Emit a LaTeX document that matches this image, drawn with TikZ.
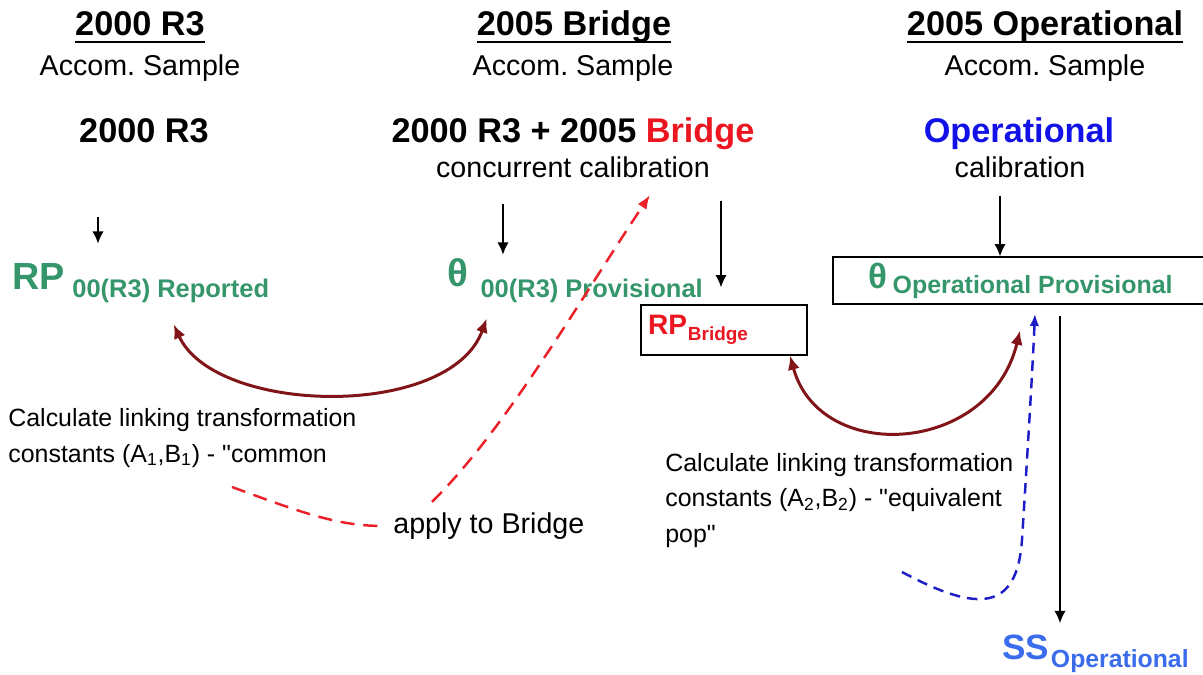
\documentclass[tikz,border=0pt]{standalone}
\usepackage{fontspec}
\setmainfont{Liberation Sans}
\usetikzlibrary{arrows.meta}
\usetikzlibrary{calc}
\definecolor{estgreen}{RGB}{52,150,106}
\definecolor{bridgered}{RGB}{235,22,32}
\definecolor{opblue}{RGB}{18,18,232}
\definecolor{ssblue}{RGB}{58,108,236}
\definecolor{linkred}{RGB}{128,20,22}
\definecolor{applyred}{RGB}{236,32,40}
\definecolor{pullblue}{RGB}{30,30,200}
\frenchspacing

\begin{document}
\begin{tikzpicture}[x=0.02cm,y=-0.02cm,
    every node/.style={inner sep=0pt},
    head/.style={font=\fontsize{19.5}{23}\selectfont\bfseries},
    plain/.style={font=\fontsize{16.3}{20}\selectfont},
    note/.style={font=\fontsize{14.2}{20}\selectfont,align=left},
    est/.style={text=estgreen,font=\fontsize{21.5}{25}\selectfont\bfseries},
    estbox/.style={draw,line width=0.8pt},
    uline/.style={line width=1.4pt},
    flow/.style={line width=0.9pt,-{Latex[length=7pt,width=6.5pt]}},
    link/.style={linkred,line width=1.7pt,{Latex[length=8pt,width=7pt]}-{Latex[length=8pt,width=7pt]}},
    apply/.style={applyred,line width=1.4pt,dash pattern=on 8pt off 5pt},
    pull/.style={pullblue,line width=1.4pt,dash pattern=on 6pt off 4pt}]
    \path[use as bounding box,clip] (0,0) rectangle (1203,675);
    % Headers
    \node[head,anchor=base] (h1) at (140,36) {2000 R3};
    \node[head,anchor=base] (h2) at (574,36) {2005 Bridge};
    \node[head,anchor=base] (h3) at (1045,36) {2005 Operational};
    \foreach \h in {h1,h2,h3}
      \draw[uline] ([yshift=-3.4pt]\h.base west) -- ([yshift=-3.4pt]\h.base east);
    \node[plain,anchor=base] (s1) at (140,76) {Accom. Sample};
    \node[plain,anchor=base] (s2) at (573,76) {Accom. Sample};
    \node[plain,anchor=base] (s3) at (1045,76) {Accom. Sample};
    % Calibrations
    \node[head,anchor=base] (r3) at (144,143) {2000 R3};
    \node[head,anchor=base] (br) at (573,143) {2000 R3 + 2005 \textcolor{bridgered}{Bridge}};
    \node[head,anchor=base,text=opblue] (op) at (1019,143) {Operational};
    \node[plain,anchor=base] (cc) at (573,178) {concurrent calibration};
    \node[plain,anchor=base] (ca) at (1020,178) {calibration};
    % Estimates
    \node[est,anchor=base west] (rp) at (12,290)
      {RP\hspace{4.3pt}\raisebox{-4.5pt}{\fontsize{14.5}{17}\selectfont 00(R3) Reported}};
    \node[est,anchor=base west,font=\fontsize{22}{25}\selectfont\bfseries] (thp) at (447,287)
      {θ\hspace{7pt}\raisebox{-5.7pt}{\fontsize{14.5}{17}\selectfont 00(R3) Provisional}};
    \node[estbox,text=bridgered,font=\fontsize{16}{19}\selectfont\bfseries,
      text width=3.04cm,inner xsep=0.14cm,minimum height=1cm,align=left] (rpb) at (724,330)
      {RP\hspace{0.5pt}\raisebox{-3.4pt}{\fontsize{10.8}{13}\selectfont Bridge}};
    \node[estbox,text=estgreen,font=\fontsize{20}{24}\selectfont\bfseries,
      minimum width=7.5cm,minimum height=0.94cm] (thop) at (1020.5,280.5)
      {θ\hspace{3pt}\raisebox{-2.8pt}{\fontsize{14.2}{17}\selectfont Operational Provisional}};
    \node[anchor=base west,text=ssblue,font=\fontsize{20}{24}\selectfont\bfseries] (ss) at (1002,659)
      {SS\hspace{1pt}\raisebox{-5pt}{\fontsize{14.1}{17}\selectfont Operational}};
    % Notes
    \node[note,anchor=base west] (lk1) at (8,462)
      {Calculate linking transformation\\constants (A\textsubscript{1},B\textsubscript{1}) - \textquotedbl common};
    \node[note,anchor=base west] (lk2) at (665,542)
      {Calculate linking transformation\\constants (A\textsubscript{2},B\textsubscript{2}) - \textquotedbl equivalent\\pop\textquotedbl};
    \node[plain,anchor=base west] (ap) at (393,533) {apply to Bridge};
    % Arrows
    \coordinate (t1) at ([shift={(-46,73)}]r3.south);
    \coordinate (t2) at ([shift={(-70,25)}]cc.south);
    \coordinate (t3) at ([shift={(148,22)}]cc.south);
    \coordinate (t4) at ([shift={(-20,17)}]ca.south);
    \coordinate (t5) at ([shift={(39.5,11)}]thop.south);
    \draw[flow,shorten >=0.4cm] (t1) -- (t1 |- rp.north);
    \draw[flow,shorten >=0.08cm] (t2) -- (t2 |- thp.north);
    \draw[flow,shorten >=0.34cm] (t3) -- (t3 |- rpb.north);
    \draw[flow] (t4) -- (t4 |- thop.north);
    \draw[flow,shorten >=0.22cm] (t5) -- (t5 |- ss.north);
    % Linking
    \draw[link] ([shift={(33,21)}]rp.south)
      .. controls (215,415) and (450,420) .. ([shift={(-88.5,16)}]thp.south);
    \draw[link] ([shift={(66,0)}]rpb.south)
      .. controls (820,465) and (990,455) .. ([shift={(-0.5,26)}]thop.south);
    \coordinate (from1) at (232,487);
    \coordinate (to1) at (650,195);
    \draw[apply,shorten >=0.16cm] (from1) .. controls (300,512) and (340,527) .. (ap.west);
    \draw[apply,-{Latex[length=8pt,width=6pt]}] ([shift={(39,-10)}]ap.north west)
      .. controls (505,430) and (580,300) .. (to1);
    \coordinate (from2) at (902,572);
    \draw[pull,-{Latex[length=7pt,width=5.5pt]}] (from2) .. controls (980,614) and (1017,610) .. (1022,540)
      .. controls (1027,460) and (1032,380) .. ([shift={(14.5,9)}]thop.south);
\end{tikzpicture}
\end{document}
